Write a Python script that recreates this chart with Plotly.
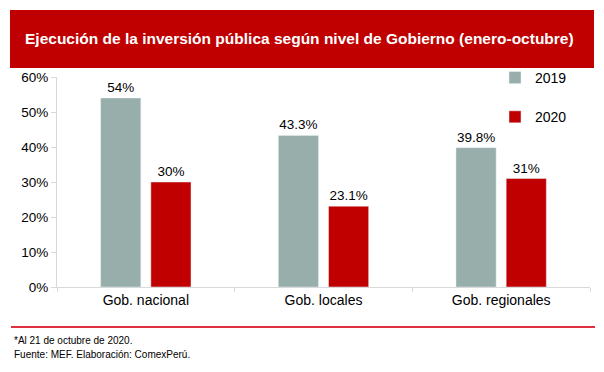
import plotly.graph_objects as go

categories = ["Gob. nacional", "Gob. locales", "Gob. regionales"]
series_2019 = [0.54, 0.433, 0.398]
series_2020 = [0.30, 0.231, 0.31]
labels_2019 = ["54%", "43.3%", "39.8%"]
labels_2020 = ["30%", "23.1%", "31%"]
y_ticks = [0, 0.1, 0.2, 0.3, 0.4, 0.5, 0.6]

title = "Ejecución de la inversión pública según nivel de Gobierno (enero-octubre)"
note1 = "*Al 21 de octubre de 2020."
note2 = "Fuente: MEF. Elaboración: ComexPerú."

# page body has an 8px margin; work in page pixels and convert
OFF = 8
W, H = 604 - 2 * OFF, 372 - 2 * OFF
PL, PR, PT, PB = 57, 590, 77, 287  # plot area in page pixels
L, T = PL - OFF, PT - OFF
R = W - (PR - OFF)
B = H - (PB - OFF)
PW, PH = PR - PL, PB - PT

def px(x):
    return (x - PL) / PW

def py(y):
    return (PB - y) / PH

FONT = "Liberation Sans, Arial, sans-serif"
GREY = "#97aeaa"
RED = "#c00000"

fig = go.Figure()
fig.add_trace(go.Bar(
    x=categories, y=series_2019, name="2019", marker_color=GREY,
    text=labels_2019, textposition="outside", cliponaxis=False,
    textfont=dict(size=13.5, color="#000000"), legendgroup="a",
))
fig.add_trace(go.Bar(
    x=categories, y=series_2020, name="2020", marker_color=RED,
    text=labels_2020, textposition="outside", cliponaxis=False,
    textfont=dict(size=13.5, color="#000000"), legendgroup="b",
))

fig.update_layout(
    width=W, height=H,
    margin=dict(l=L, r=R, t=T, b=B, pad=0),
    paper_bgcolor="white", plot_bgcolor="white",
    font=dict(family=FONT, color="#000000"),
    barmode="group", bargap=0.435, bargroupgap=0.2,
    showlegend=True,
    legend=dict(
        x=px(495), y=py(62), xanchor="left", yanchor="top",
        font=dict(size=14), traceorder="grouped", tracegroupgap=18,
        bgcolor="rgba(0,0,0,0)",
    ),
    xaxis=dict(
        showline=True, linecolor="#d9d9d9", linewidth=1,
        ticks="outside", tickson="boundaries", ticklen=4, tickcolor="#d9d9d9",
        tickfont=dict(size=14), showgrid=False,
    ),
    yaxis=dict(
        range=[0, 0.6], tickvals=y_ticks, tickformat=".0%",
        showline=True, linecolor="#d9d9d9", linewidth=1,
        ticks="outside", ticklen=5, tickcolor="#d9d9d9",
        tickfont=dict(size=13.5), showgrid=False, zeroline=False,
    ),
)

fig.add_shape(type="rect", xref="paper", yref="paper",
              x0=px(10), x1=px(594), y0=py(68), y1=py(10),
              fillcolor=RED, line=dict(width=0), layer="below")
fig.add_annotation(xref="paper", yref="paper", x=px(299), y=py(39),
                   text="<b>" + title + "</b>", showarrow=False,
                   font=dict(size=15.5, color="white"),
                   xanchor="center", yanchor="middle")
fig.add_shape(type="line", xref="paper", yref="paper",
              x0=px(11), x1=px(595), y0=py(327), y1=py(327),
              line=dict(color="#e0303f", width=2))
fig.add_annotation(xref="paper", yref="paper", x=px(12), y=py(340),
                   text=note1, showarrow=False, font=dict(size=10),
                   xanchor="left", yanchor="middle")
fig.add_annotation(xref="paper", yref="paper", x=px(12), y=py(354),
                   text=note2, showarrow=False, font=dict(size=10),
                   xanchor="left", yanchor="middle")

fig.write_html("out.html")
